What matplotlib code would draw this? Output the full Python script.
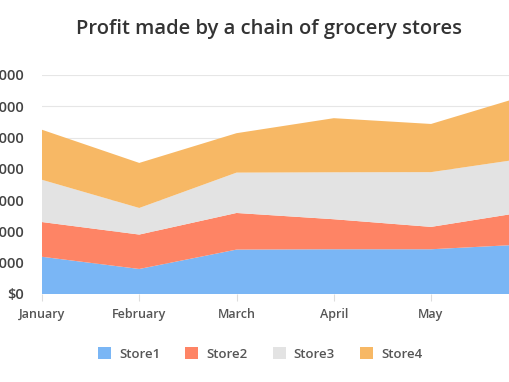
import matplotlib

matplotlib.use("Agg")
import matplotlib.pyplot as plt
from matplotlib.patches import Patch

plt.rcParams["font.family"] = ["Open Sans", "DejaVu Sans"]

months = ["January", "February", "March", "April", "May", "June"]
store1 = [1190, 800, 1420, 1430, 1430, 1590]
store2 = [1110, 1100, 1170, 960, 715, 1050]
store3 = [1350, 850, 1290, 1500, 1750, 1710]
store4 = [1600, 1440, 1260, 1730, 1540, 2020]
labels = ["Store1", "Store2", "Store3", "Store4"]
colors = ["#7ab6f5", "#fe8465", "#e3e3e3", "#f7b865"]
yticks = [0, 1000, 2000, 3000, 4000, 5000, 6000, 7000]

fig = plt.figure(figsize=(5.10, 3.82), dpi=100)
# plot area runs past the right edge of the picture, as in the reference
ax = fig.add_axes([42 / 510, 88 / 382, (528.3 - 42) / 510, 219 / 382])

x = list(range(len(months)))
ax.stackplot(x, store1, store2, store3, store4, colors=colors, labels=labels,
             linewidth=0, zorder=2)

ax.set_xlim(0, len(months) - 1)
ax.set_ylim(0, 7000)
ax.set_xticks(x)
ax.set_xticklabels(months)
ax.set_yticks(yticks)
ax.set_yticklabels(["$0"] + [f"${v:,}" for v in yticks[1:]])
ax.grid(axis="y", color="#e6e6e6", linewidth=0.8, zorder=0)
for s in ax.spines.values():
    s.set_visible(False)
ax.tick_params(axis="y", length=0, pad=13, labelsize=10.5, labelcolor="#444444")
ax.tick_params(axis="x", length=5, color="#dddddd", pad=5, labelsize=9,
               labelcolor="#555555")
for lab in ax.get_yticklabels() + ax.get_xticklabels():
    lab.set_fontweight("semibold")

fig.text(0.527, 1 - 29 / 382, "Profit made by a chain of grocery stores",
         ha="center", va="center", fontsize=14.5, fontweight="semibold",
         color="#333333")

handles = [Patch(facecolor=c, edgecolor="none", label=l) for c, l in zip(colors, labels)]
leg = fig.legend(handles=handles, loc="center", bbox_to_anchor=(0.51, 1 - 354 / 382),
                 ncol=4, frameon=False, fontsize=9.5, handlelength=1.0,
                 handleheight=1.0, handletextpad=0.6, columnspacing=1.9)
for t in leg.get_texts():
    t.set_color("#555555")
    t.set_fontweight("semibold")

fig.savefig("out.png", dpi=100)
